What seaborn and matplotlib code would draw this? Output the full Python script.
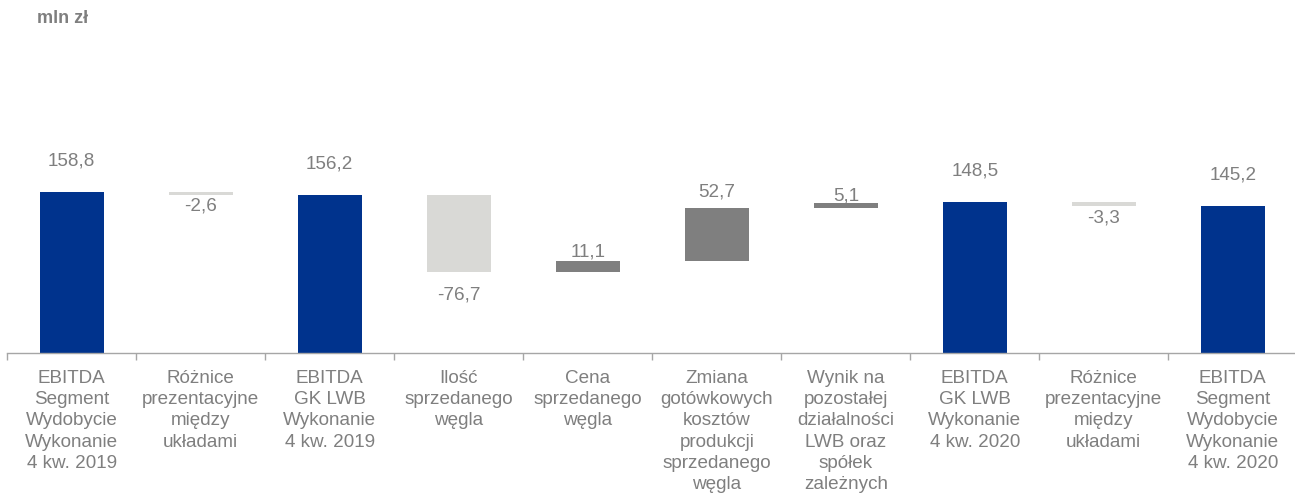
import matplotlib
matplotlib.use("Agg")
import matplotlib.pyplot as plt
import seaborn as sns
import pandas as pd

# EBITDA bridge, mln zł
labels = [
    "EBITDA\nSegment\nWydobycie\nWykonanie\n4 kw. 2019",
    "Różnice\nprezentacyjne\nmiędzy\nukładami",
    "EBITDA\nGK LWB\nWykonanie\n4 kw. 2019",
    "Ilość\nsprzedanego\nwęgla",
    "Cena\nsprzedanego\nwęgla",
    "Zmiana\ngotówkowych\nkosztów\nprodukcji\nsprzedanego\nwęgla",
    "Wynik na\npozostałej\ndziałalności\nLWB oraz\nspółek\nzależnych",
    "EBITDA\nGK LWB\nWykonanie\n4 kw. 2020",
    "Różnice\nprezentacyjne\nmiędzy\nukładami",
    "EBITDA\nSegment\nWydobycie\nWykonanie\n4 kw. 2020",
]
values = [158.8, -2.6, 156.2, -76.7, 11.1, 52.7, 5.1, 148.5, -3.3, 145.2]
kinds = ["total", "diff", "total", "delta", "delta", "delta", "delta", "total", "diff", "total"]

# waterfall: totals start at 0, steps start from the running level
bottoms = []
heights = []
level = 0.0
for v, k in zip(values, kinds):
    if k == "total":
        bottoms.append(0.0)
        heights.append(v)
        level = v
    else:
        lo = min(level, level + v)
        bottoms.append(lo)
        heights.append(abs(v))
        level = level + v

df = pd.DataFrame({"step": list(range(len(values))), "height": heights})

navy = "#00338D"
light = "#D9D9D6"
dark = "#7F7F7F"
txt = "#7F7F7F"
colors = []
for v, k in zip(values, kinds):
    if k == "total":
        colors.append(navy)
    elif v < 0:
        colors.append(light)
    else:
        colors.append(dark)

plt.rcParams["font.family"] = ["Liberation Sans", "DejaVu Sans"]

fig = plt.figure(figsize=(12.95, 4.94), dpi=100)
ax = fig.add_axes([7.3 / 1295, (494 - 353) / 494, 1290 / 1295, (353 - 40) / 494])

sns.barplot(data=df, x="step", y="height", bottom=bottoms, width=0.5,
            errorbar=None, color=navy, linewidth=0, ax=ax)
for p, c in zip(ax.patches, colors):
    p.set_facecolor(c)

ax.set_ylim(0, 308.7)
ax.set_xlim(-0.5, len(values) - 0.5)

# value labels (offsets in pixels)
offsets = [31, -11, 31, -23, 9, 16, 7, 31, -12, 31]
for i, (v, b, h) in enumerate(zip(values, bottoms, heights)):
    y = b + h if offsets[i] > 0 else b
    ax.annotate(f"{v:.1f}".replace(".", ","), (i, y), xytext=(0, offsets[i]),
                textcoords="offset pixels", ha="center", va="center",
                fontsize=13.6, color=txt)

# category boundaries as major ticks, names on minor ticks
ax.set_xticks([i - 0.5 for i in range(len(values) + 1)])
ax.set_xticklabels([])
ax.set_xticks(list(range(len(values))), minor=True)
ax.set_xticklabels(labels, minor=True, fontsize=13.6, color=txt, linespacing=1.335)
ax.tick_params(axis="x", which="major", length=5, width=1, color="#A6A6A6", direction="out")
ax.tick_params(axis="x", which="minor", length=0, pad=12)
ax.set_yticks([])
ax.set_xlabel("")
ax.set_ylabel("")
for s in ["left", "right", "top"]:
    ax.spines[s].set_visible(False)
ax.spines["bottom"].set_color("#A6A6A6")
ax.spines["bottom"].set_linewidth(1)

fig.text(37 / 1295, 1 - 10 / 494, "mln zł", fontsize=13, fontweight="bold",
         color=txt, ha="left", va="top")

fig.savefig("out.png", dpi=100)
